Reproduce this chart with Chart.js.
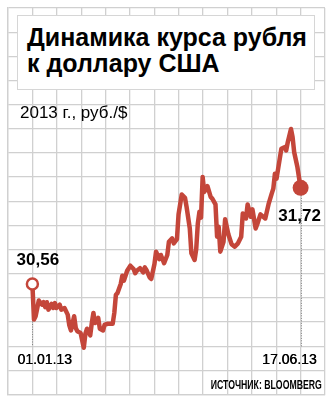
<!DOCTYPE html>
<html>
<head>
<meta charset="utf-8">
<script src="https://cdn.jsdelivr.net/npm/chart.js@4"></script>
<style>
  html, body { margin: 0; padding: 0; background: #fff; }
  #wrap { position: relative; width: 333px; height: 403px; overflow: hidden; font-family: "Liberation Sans", Arial, sans-serif; color: #000; }
  #chartBox { position: absolute; left: 0; top: 0; width: 333px; height: 403px; }
  .titleBox { position: absolute; left: 17px; top: 15px; width: 298px; height: 75px; background: #fff; border: 1px solid #d6d6d6; box-sizing: border-box; }
  .titleBox h1 { margin: 0; position: absolute; left: 9px; top: 8px; font-size: 25px; line-height: 26px; font-weight: bold; white-space: nowrap; }
  .sub { position: absolute; left: 20px; top: 103px; font-size: 17px; white-space: nowrap; }
  .source { position: absolute; right: 11px; top: 377px; font-size: 13px; font-weight: bold; white-space: nowrap; transform: scaleX(0.67); transform-origin: right top; }
</style>
</head>
<body>
<div id="wrap">
  <div id="chartBox"><canvas id="myChart"></canvas></div>
  <div class="titleBox"><h1>Динамика курса рубля<br>к доллару США</h1></div>
  <div class="sub">2013 г., руб./$</div>
  <div class="source">ИСТОЧНИК: BLOOMBERG</div>
</div>
<script>
// days since 01.01.13
const days = [0, 1, 2, 4, 6, 7, 8, 9, 10, 12, 13, 14, 15, 17, 18, 20, 22, 23, 24, 26,
  27, 28, 30, 32, 33, 34, 36, 37, 38, 39, 41, 42, 44, 45, 47, 48, 50, 51, 52, 53,
  55, 56, 57, 59, 61, 63, 64, 65, 67, 69, 70, 71, 73, 74, 76, 77, 79, 80, 82, 84,
  85, 87, 88, 90, 91, 93, 95, 96, 98, 99, 101, 102, 103, 104, 105, 106, 107, 109, 111, 112,
  114, 115, 116, 117, 119, 120, 122, 124, 126, 128, 130, 131, 133, 134, 136, 137, 139, 140, 142, 145,
  147, 149, 150, 151, 152, 153, 155, 157, 158, 159, 161, 162, 163, 165, 167];
// rub per usd
const rates = [30.56, 30.13, 30.17, 30.36, 30.31, 30.34, 30.28, 30.34, 30.25, 30.32, 30.27, 30.33, 30.27, 30.31, 30.25, 30.27, 30.19, 30.06, 30.00, 30.17,
  30.03, 29.99, 29.97, 29.79, 29.96, 30.02, 29.94, 30.09, 30.21, 30.09, 30.15, 30.02, 30.00, 30.07, 30.08, 30.08, 30.08, 30.21, 30.43, 30.45,
  30.56, 30.66, 30.60, 30.72, 30.78, 30.74, 30.69, 30.72, 30.75, 30.70, 30.76, 30.73, 30.64, 30.62, 30.80, 30.95, 30.86, 30.91, 30.81, 30.91,
  31.07, 31.11, 31.05, 31.10, 31.40, 31.64, 31.60, 31.49, 31.23, 30.93, 30.85, 30.98, 31.29, 31.43, 31.36, 31.85, 31.67, 31.74, 31.61, 31.59,
  31.52, 31.13, 31.25, 30.95, 31.07, 31.34, 31.16, 31.04, 31.01, 31.05, 31.13, 31.41, 31.35, 31.52, 31.37, 31.46, 31.23, 31.28, 31.40, 31.35,
  31.52, 31.65, 31.71, 31.89, 31.83, 31.95, 32.19, 32.21, 32.17, 32.27, 32.43, 32.33, 32.15, 31.97, 31.72];
const dateLabels = ['01.01.13', '17.06.13'];

const red = 'rgb(196, 70, 58)';
const gridColor = '#d0d0d0';

// graph paper grid
const xStep = 167 / 11, xMin = -xStep, xCount = 14;
const yMin = 29.2254, yStep = 0.29149, yCount = 17;

const points = days.map((d, i) => ({x: d, y: rates[i]}));
const last = points.length - 1;

const fmt = v => v.toFixed(2).replace('.', ',');

const labelPlugin = {
  id: 'labels',
  beforeDatasetsDraw(chart) {
    const {ctx, scales: {x, y}} = chart;
    const bottom = y.bottom - 48;
    ctx.save();
    ctx.strokeStyle = '#808080';
    ctx.lineWidth = 1;
    ctx.setLineDash([1, 1.5]);
    [0, last].forEach(i => {
      const px = Math.round(x.getPixelForValue(days[i])) + 0.5;
      ctx.beginPath();
      ctx.moveTo(px, y.getPixelForValue(rates[i]));
      ctx.lineTo(px, bottom);
      ctx.stroke();
    });
    ctx.restore();
  },
  afterDatasetsDraw(chart) {
    const {ctx, scales: {x, y}} = chart;
    const x0 = x.getPixelForValue(days[0]), y0 = y.getPixelForValue(rates[0]);
    const x1 = x.getPixelForValue(days[last]), y1 = y.getPixelForValue(rates[last]);
    ctx.save();
    ctx.fillStyle = '#000';
    ctx.textBaseline = 'alphabetic';
    ctx.font = 'bold 17px "Liberation Sans", Arial, sans-serif';
    ctx.textAlign = 'center';
    ctx.fillText(fmt(rates[0]), x0 + 5.5, y0 - 19);
    ctx.fillText(fmt(rates[last]), x1 - 1, y1 + 33);
    ctx.font = '14px "Liberation Sans", Arial, sans-serif';
    ctx.textAlign = 'left';
    ctx.fillText(dateLabels[0], x0 - 15, y.bottom - 31);
    ctx.fillText(dateLabels[0], x0 - 14.7, y.bottom - 31);
    ctx.textAlign = 'right';
    ctx.fillText(dateLabels[1], x1 + 16, y.bottom - 31);
    ctx.fillText(dateLabels[1], x1 + 16.3, y.bottom - 31);
    ctx.restore();
  }
};

const ctx = document.getElementById('myChart');

let chart = new Chart(ctx, {
  type: 'line',
  data: {
    datasets: [{
      data: points,
      borderColor: red,
      borderWidth: 4.5,
      borderJoinStyle: 'round',
      borderCapStyle: 'round',
      tension: 0,
      pointRadius: points.map((p, i) => i === 0 ? 5.5 : (i === last ? 8 : 0)),
      pointBorderWidth: points.map((p, i) => i === 0 ? 2.5 : 0),
      pointBackgroundColor: points.map((p, i) => i === 0 ? '#fff' : red),
      pointBorderColor: red,
      clip: false
    }]
  },
  options: {
    responsive: true,
    maintainAspectRatio: false,
    animation: false,
    layout: { padding: { left: 6.3, right: 5.3, top: 4.6, bottom: 8.4 } },
    plugins: { legend: { display: false }, tooltip: { enabled: false } },
    scales: {
      x: {
        type: 'linear',
        min: xMin,
        max: xMin + (xCount - 1) * xStep,
        afterBuildTicks: axis => { axis.ticks = Array.from({length: xCount}, (_, i) => ({value: xMin + i * xStep})); },
        ticks: { display: false },
        grid: { color: gridColor, lineWidth: 1.3, drawTicks: false },
        border: { color: gridColor, width: 1.3 }
      },
      y: {
        min: yMin,
        max: yMin + (yCount - 1) * yStep,
        afterBuildTicks: axis => { axis.ticks = Array.from({length: yCount}, (_, i) => ({value: yMin + i * yStep})); },
        ticks: { display: false },
        grid: { color: gridColor, lineWidth: 1.3, drawTicks: false },
        border: { color: gridColor, width: 1.3 }
      }
    }
  },
  plugins: [labelPlugin]
});
</script>
</body>
</html>
